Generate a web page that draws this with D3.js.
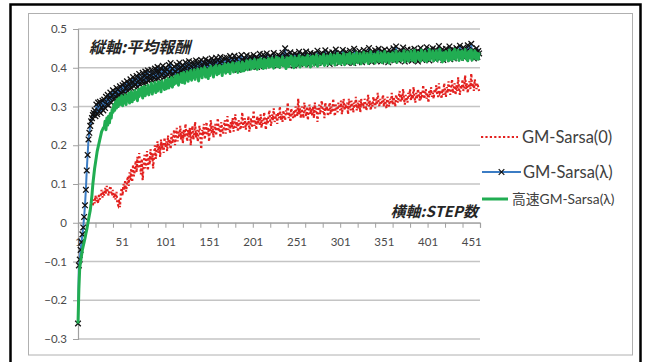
<!DOCTYPE html>
<html>
<head>
<meta charset="utf-8">
<script src="https://cdn.jsdelivr.net/npm/d3@7"></script>
<style>
  html, body { margin: 0; padding: 0; background: #fff; }
  svg { display: block; }
  text { font-family: "Lato", "Noto Sans CJK JP", sans-serif; }
</style>
</head>
<body>
<svg id="chart" width="653" height="362"></svg>
<script>
// Average reward per step for three learners
const stepCount = 461;
const yTicks = [-0.3, -0.2, -0.1, 0, 0.1, 0.2, 0.3, 0.4, 0.5];
const xLabelSteps = [1, 51, 101, 151, 201, 251, 301, 351, 401, 451];
const seriesNames = ["GM-Sarsa(0)", "GM-Sarsa(λ)", "高速GM-Sarsa(λ)"];
const axisTitleY = "縦軸:平均報酬";
const axisTitleX = "横軸:STEP数";

// GM-Sarsa(0): recorded from step 18 onward
const sarsa0 = [null,null,null,null,null,null,null,null,null,null,null,null,null,null,null,null,null,
  .045,.06,.05,.07,.055,.065,.05,.075,.06,.07,
  .085,.065,.08,.07,.09,.075,.095,.08,.07,.085,
  .095,.08,.07,.085,.065,.075,.06,.08,.05,.045,
  .06,.04,.075,.09,.07,.1,.085,.11,.08,.1,
  .12,.095,.13,.11,.14,.105,.15,.12,.135,.16,
  .13,.17,.14,.18,.155,.125,.165,.11,.145,.175,
  .14,.16,.185,.135,.17,.15,.19,.16,.18,.14,
  .175,.2,.165,.19,.21,.18,.2,.17,.215,.19,
  .205,.18,.22,.195,.21,.185,.225,.2,.215,.19,
  .23,.205,.22,.24,.2,.225,.245,.21,.235,.22,
  .25,.215,.235,.205,.24,.22,.255,.23,.21,.24,
  .22,.245,.2,.235,.25,.215,.23,.26,.22,.24,
  .21,.235,.25,.22,.19,.24,.225,.255,.215,.235,
  .26,.225,.245,.21,.24,.265,.23,.25,.22,.24,
  .255,.225,.245,.27,.235,.25,.22,.26,.24,.23,
  .25,.265,.23,.245,.275,.24,.255,.23,.26,.245,
  .27,.235,.25,.28,.245,.26,.235,.265,.25,.24,
  .26,.285,.245,.255,.27,.24,.26,.25,.275,.235,
  .25,.27,.245,.26,.29,.25,.265,.24,.275,.255,
  .27,.25,.28,.245,.265,.255,.285,.26,.24,.27,
  .255,.275,.29,.26,.25,.28,.265,.295,.26,.27,
  .28,.255,.285,.27,.3,.265,.28,.26,.29,.275,
  .265,.29,.28,.31,.27,.285,.26,.295,.28,.27,
  .29,.27,.3,.285,.275,.32,.28,.295,.27,.3,
  .285,.27,.31,.29,.275,.3,.265,.29,.305,.28,
  .295,.275,.3,.27,.31,.285,.295,.26,.29,.305,
  .28,.3,.315,.285,.295,.27,.31,.29,.3,.275,
  .295,.31,.28,.3,.285,.32,.29,.275,.305,.295,
  .285,.31,.3,.29,.315,.28,.3,.32,.29,.305,
  .295,.31,.28,.32,.3,.29,.315,.305,.285,.31,
  .3,.325,.29,.31,.295,.315,.285,.32,.3,.31,
  .295,.32,.305,.29,.31,.33,.3,.315,.29,.31,
  .3,.325,.31,.295,.32,.305,.335,.31,.3,.32,
  .305,.315,.33,.3,.32,.31,.295,.325,.315,.3,
  .32,.31,.335,.305,.325,.315,.3,.33,.32,.31,
  .325,.34,.31,.33,.315,.345,.32,.305,.33,.32,
  .31,.335,.325,.345,.315,.33,.32,.35,.325,.31,
  .335,.32,.345,.33,.315,.34,.325,.33,.355,.32,
  .33,.345,.32,.335,.31,.34,.33,.35,.325,.335,
  .32,.345,.335,.355,.33,.325,.36,.335,.34,.32,
  .345,.33,.36,.34,.325,.35,.335,.365,.34,.33,
  .35,.37,.335,.345,.36,.33,.355,.34,.375,.345,
  .33,.355,.345,.37,.34,.35,.38,.345,.36,.335,
  .355,.365,.345,.385,.35,.36,.34,.37,.355,.345,
  .36,.35,.34];

// GM-Sarsa(λ)
const sarsaLambda = [
  -.26,-.11,-.095,-.07,-.05,-.03,-.012,.015,.045,.085,
  .135,.175,.215,.232,.25,.262,.27,.278,.283,.29,
  .275,.305,.28,.31,.287,.312,.283,.298,.315,.29,
  .318,.296,.325,.305,.33,.303,.322,.336,.31,.328,
  .342,.318,.337,.325,.348,.322,.344,.33,.352,.335,
  .327,.355,.338,.36,.333,.349,.365,.34,.358,.346,
  .37,.348,.362,.376,.352,.368,.357,.379,.35,.366,
  .384,.356,.372,.365,.387,.36,.378,.39,.362,.376,
  .393,.366,.38,.371,.395,.368,.385,.374,.398,.37,
  .389,.402,.372,.39,.377,.398,.381,.405,.375,.392,
  .4,.378,.395,.382,.407,.389,.412,.38,.398,.384,
  .403,.39,.376,.408,.385,.397,.413,.382,.401,.393,
  .407,.384,.399,.414,.388,.403,.392,.417,.386,.404,
  .39,.415,.398,.408,.387,.419,.395,.41,.391,.416,
  .397,.42,.404,.39,.413,.401,.422,.393,.409,.418,
  .395,.414,.4,.424,.392,.411,.419,.398,.426,.405,
  .42,.396,.413,.428,.401,.416,.394,.425,.41,.403,
  .426,.399,.418,.405,.43,.412,.397,.421,.408,.431,
  .402,.422,.41,.395,.428,.414,.404,.433,.4,.419,
  .426,.405,.417,.432,.4,.421,.411,.429,.403,.424,
  .41,.433,.407,.42,.428,.402,.425,.415,.436,.405,
  .422,.41,.434,.404,.427,.418,.437,.408,.423,.412,
  .431,.406,.425,.416,.438,.41,.428,.42,.405,.433,
  .414,.43,.409,.426,.439,.412,.423,.45,.415,.435,
  .408,.428,.419,.44,.411,.432,.42,.406,.437,.424,
  .414,.433,.422,.441,.41,.428,.418,.436,.412,.43,
  .425,.442,.413,.431,.42,.409,.438,.423,.434,.415,
  .436,.418,.43,.411,.444,.424,.416,.435,.421,.438,
  .412,.43,.426,.445,.415,.433,.42,.439,.41,.431,
  .428,.44,.414,.436,.423,.447,.418,.432,.426,.412,
  .439,.42,.433,.446,.416,.43,.424,.441,.413,.435,
  .428,.444,.419,.436,.423,.412,.449,.43,.421,.438,
  .417,.434,.443,.422,.437,.414,.431,.446,.425,.433,
  .419,.44,.428,.451,.42,.436,.415,.442,.43,.424,
  .445,.418,.437,.428,.449,.421,.434,.416,.443,.431,
  .426,.447,.42,.438,.432,.414,.446,.428,.44,.422,
  .435,.45,.419,.437,.455,.427,.441,.418,.436,.432,
  .444,.423,.452,.429,.416,.439,.433,.447,.421,.438,
  .428,.446,.418,.437,.43,.449,.424,.44,.433,.416,
  .442,.427,.451,.436,.42,.444,.431,.438,.425,.453,
  .43,.441,.419,.447,.435,.426,.45,.432,.439,.421,
  .446,.428,.44,.456,.424,.437,.431,.448,.42,.443,
  .433,.449,.426,.441,.437,.455,.422,.444,.43,.447,
  .424,.445,.436,.451,.428,.44,.433,.457,.425,.442,
  .438,.452,.426,.447,.431,.443,.458,.429,.44,.434,
  .462,.43,.446,.424,.441,.435,.45,.428,.443,.437];

// 高速GM-Sarsa(λ)
const fastSarsaLambda = [
  -.26,-.17,-.115,-.1,-.085,-.07,-.06,-.05,-.04,-.028,
  -.018,-.005,.008,.02,.032,.05,.072,.1,.12,.14,
  .155,.17,.185,.195,.205,.215,.225,.235,.24,.245,
  .245,.262,.24,.27,.252,.275,.258,.282,.27,.292,
  .285,.305,.29,.312,.296,.318,.3,.322,.305,.315,
  .328,.302,.322,.31,.33,.305,.326,.314,.334,.309,
  .325,.338,.312,.333,.318,.341,.322,.336,.315,.343,
  .326,.345,.33,.349,.322,.34,.352,.328,.346,.334,
  .355,.33,.348,.338,.36,.332,.351,.342,.362,.336,
  .356,.34,.364,.345,.36,.338,.366,.35,.358,.344,
  .368,.346,.362,.372,.348,.365,.354,.375,.35,.368,
  .357,.378,.36,.372,.382,.355,.374,.364,.385,.362,
  .378,.388,.36,.381,.37,.39,.365,.384,.372,.393,
  .368,.386,.375,.395,.37,.388,.378,.397,.366,.39,
  .38,.398,.374,.392,.385,.401,.376,.395,.388,.372,
  .398,.38,.404,.387,.395,.376,.401,.39,.406,.382,
  .398,.385,.406,.39,.402,.38,.404,.395,.41,.386,
  .405,.39,.41,.396,.385,.408,.399,.413,.389,.404,
  .394,.411,.4,.388,.414,.397,.406,.391,.415,.402,
  .392,.41,.4,.418,.395,.412,.404,.42,.397,.411,
  .415,.399,.421,.404,.413,.396,.42,.409,.401,.423,
  .403,.417,.398,.422,.41,.4,.419,.406,.424,.402,
  .418,.404,.425,.41,.399,.42,.413,.427,.403,.416,
  .424,.401,.418,.409,.428,.405,.42,.41,.398,.426,
  .412,.403,.425,.414,.43,.406,.42,.4,.427,.413,
  .405,.424,.416,.431,.402,.421,.41,.428,.407,.419,
  .426,.404,.42,.432,.41,.423,.402,.428,.415,.43,
  .407,.425,.418,.433,.404,.422,.412,.43,.409,.427,
  .42,.434,.406,.425,.413,.431,.408,.428,.419,.435,
  .41,.426,.414,.433,.407,.429,.42,.436,.411,.424,
  .432,.41,.427,.418,.437,.408,.425,.415,.434,.412,
  .428,.438,.411,.426,.417,.435,.409,.43,.421,.439,
  .413,.429,.418,.436,.41,.427,.42,.44,.414,.431,
  .423,.437,.411,.43,.418,.441,.415,.428,.42,.435,
  .412,.433,.424,.44,.416,.429,.418,.438,.413,.431,
  .426,.442,.415,.432,.42,.437,.412,.435,.427,.419,
  .439,.416,.431,.424,.443,.414,.433,.42,.438,.426,
  .418,.436,.428,.444,.415,.434,.423,.441,.417,.432,
  .427,.443,.419,.435,.42,.445,.416,.433,.428,.44,
  .421,.437,.417,.446,.425,.434,.419,.442,.428,.416,
  .436,.422,.447,.42,.435,.428,.443,.418,.437,.426,
  .444,.419,.433,.425,.448,.421,.437,.415,.439,.43,
  .42,.442,.427,.436,.418,.446,.424,.438,.42,.441,
  .425,.448,.422,.436,.43,.445,.419,.438,.427,.443,
  .421,.44,.429,.447,.423,.436,.418,.442,.431,.426,
  .446,.42,.437,.428,.444,.423,.438,.43,.422,.44];

const svg = d3.select("#chart");

// Frame: black outer border, grey chart-area border
svg.append("rect").attr("x", 10.5).attr("y", 4.5).attr("width", 630).attr("height", 370)
  .attr("fill", "#fff").attr("stroke", "#000").attr("stroke-width", 2.5);
svg.append("rect").attr("x", 28.5).attr("y", 13.5).attr("width", 604).attr("height", 341.5)
  .attr("fill", "#fff").attr("stroke", "#b0b0b0").attr("stroke-width", 1);

const plot = { left: 78, right: 480, top: 29, bottom: 339 };
const x = d3.scaleLinear().domain([1, stepCount]).range([plot.left, plot.right]);
const y = d3.scaleLinear().domain([-0.3, 0.5]).range([plot.bottom, plot.top]);

// Horizontal gridlines
svg.append("g").selectAll("line").data(yTicks).join("line")
  .attr("x1", plot.left).attr("x2", plot.right)
  .attr("y1", d => y(d)).attr("y2", d => y(d))
  .attr("stroke", "#c4c4c4").attr("stroke-width", 1.3);

// Y axis
const yAxis = svg.append("g").attr("transform", `translate(${plot.left},0)`)
  .call(d3.axisLeft(y).tickValues(yTicks).tickSize(5).tickPadding(6)
    .tickFormat(d => d === 0 ? "0" : d3.format(".1f")(d)));
yAxis.select(".domain").attr("stroke", "#a0a0a0").attr("stroke-width", 1.2);
yAxis.selectAll(".tick line").attr("stroke", "#a0a0a0");
yAxis.selectAll("text").attr("fill", "#4a4a4a").style("font-size", "11.5px")
  .style("font-family", "Lato, sans-serif");

// X axis at zero: tick marks every 20 steps, labels every 50
const x0 = y(0);
const xTickMarks = d3.range(1, stepCount + 1, 20);
const xAxis = svg.append("g").attr("transform", `translate(0,${x0})`)
  .call(d3.axisBottom(x).tickValues(xTickMarks).tickSize(5).tickFormat(""));
xAxis.select(".domain").attr("stroke", "#a0a0a0").attr("stroke-width", 1.2);
xAxis.selectAll(".tick line").attr("stroke", "#a0a0a0");
const xLab = svg.append("g").attr("transform", `translate(0,${x0})`)
  .call(d3.axisBottom(x).tickValues(xLabelSteps).tickSize(0).tickPadding(15).tickFormat(d3.format("d")));
xLab.select(".domain").remove();
xLab.selectAll("text").attr("fill", "#4a4a4a").style("font-size", "11.5px")
  .style("font-family", "Lato, sans-serif");

// Series
const line = d3.line().defined(d => d != null).x((d, i) => x(i + 1)).y(d => y(d));

svg.append("path").datum(sarsa0).attr("d", line)
  .attr("fill", "none").attr("stroke", "#e3211f").attr("stroke-width", 2.2)
  .attr("stroke-dasharray", "2.2,2.2");

svg.append("path").datum(sarsaLambda).attr("d", line)
  .attr("fill", "none").attr("stroke", "#3b7cc4").attr("stroke-width", 2);

const cross = "M-2.8,-2.8L2.8,2.8M-2.8,2.8L2.8,-2.8";
svg.append("g").selectAll("path").data(sarsaLambda).join("path")
  .attr("transform", (d, i) => `translate(${x(i + 1)},${y(d)})`)
  .attr("d", cross).attr("stroke", "#111").attr("stroke-width", 1.3).attr("fill", "none");

svg.append("path").datum(fastSarsaLambda).attr("d", line)
  .attr("fill", "none").attr("stroke", "#21ad52").attr("stroke-width", 3)
  .attr("stroke-linejoin", "round");

// Axis captions inside the plot
svg.append("text").attr("x", 89).attr("y", 53).text(axisTitleY)
  .attr("fill", "#262626").style("font-size", "16px").style("font-weight", "bold")
  .style("font-style", "italic").style("font-family", "'Noto Sans CJK JP', sans-serif");
svg.append("text").attr("x", 478).attr("y", 217).attr("text-anchor", "end").text(axisTitleX)
  .attr("fill", "#262626").style("font-size", "15px").style("font-weight", "bold")
  .style("font-style", "italic").style("font-family", "'Noto Sans CJK JP', sans-serif");

// Legend
const legend = svg.append("g");
const lg = [
  { name: seriesNames[0], y: 137, x1: 481, x2: 518, tx: 522, size: 16.5 },
  { name: seriesNames[1], y: 172, x1: 482, x2: 521, tx: 523, size: 16.5 },
  { name: seriesNames[2], y: 199, x1: 482, x2: 508, tx: 512, size: 13.8 }
];
legend.append("line").attr("x1", lg[0].x1).attr("x2", lg[0].x2).attr("y1", lg[0].y).attr("y2", lg[0].y)
  .attr("stroke", "#e3211f").attr("stroke-width", 2.2).attr("stroke-dasharray", "2.2,2.2");
legend.append("line").attr("x1", lg[1].x1).attr("x2", lg[1].x2).attr("y1", lg[1].y).attr("y2", lg[1].y)
  .attr("stroke", "#3b7cc4").attr("stroke-width", 2);
legend.append("path").attr("transform", `translate(${(lg[1].x1 + lg[1].x2) / 2},${lg[1].y})`)
  .attr("d", cross).attr("stroke", "#111").attr("stroke-width", 1.2);
legend.append("line").attr("x1", lg[2].x1).attr("x2", lg[2].x2).attr("y1", lg[2].y).attr("y2", lg[2].y)
  .attr("stroke", "#21ad52").attr("stroke-width", 3);
legend.selectAll("text").data(lg).join("text")
  .attr("x", d => d.tx).attr("y", d => d.y).attr("dy", "0.35em")
  .style("font-size", d => d.size + "px").attr("fill", "#404040")
  .style("font-family", "Lato, 'Noto Sans CJK JP', sans-serif")
  .text(d => d.name);
</script>
</body>
</html>
